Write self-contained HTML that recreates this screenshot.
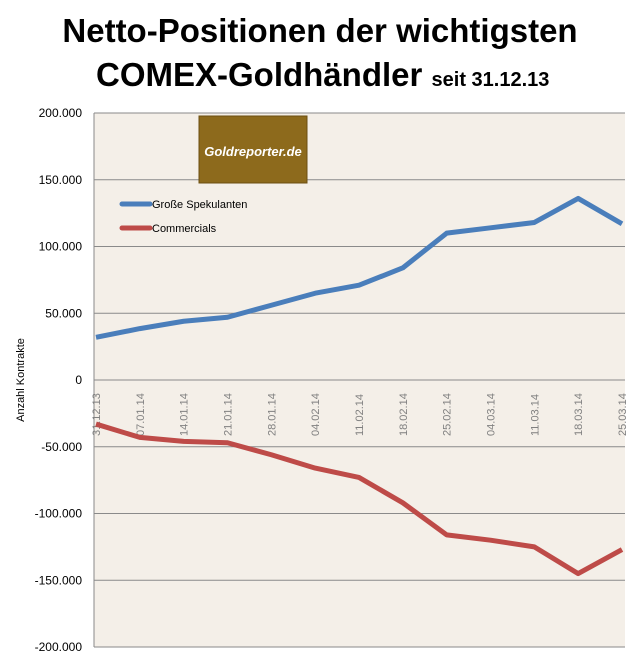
<!DOCTYPE html>
<html><head><meta charset="utf-8"><style>
body{margin:0;background:#fff;width:640px;height:658px;overflow:hidden;font-family:"Liberation Sans",sans-serif}
</style></head><body>
<svg id="c" width="640" height="658">
<text x="320" y="42" text-anchor="middle" font-size="33" font-weight="bold" font-family="Liberation Sans, sans-serif">Netto-Positionen der wichtigsten</text>
<text x="96" y="86" font-size="33" font-weight="bold" font-family="Liberation Sans, sans-serif">COMEX-Goldhändler <tspan font-size="20">seit 31.12.13</tspan></text>
<rect x="94" y="113" width="531" height="534" fill="#f4efe8"/>
<g id="grid"></g>
<g id="ylabels"></g>
<g id="xlabels"></g>
<text transform="translate(24,380) rotate(-90)" text-anchor="middle" font-size="11">Anzahl Kontrakte</text>
<g>
<rect x="199" y="116" width="108" height="67" fill="#8d6a1c" stroke="#6b4f12"/>
<text x="253" y="156" text-anchor="middle" fill="#fff" font-size="13" font-style="italic" font-weight="bold">Goldreporter.de</text>
</g>
<g id="series"></g>
<line x1="122" y1="204" x2="150" y2="204" stroke="#4a7ebb" stroke-width="5" stroke-linecap="round"/>
<text x="152" y="208" font-size="11">Große Spekulanten</text>
<line x1="122" y1="228" x2="150" y2="228" stroke="#be4b48" stroke-width="5" stroke-linecap="round"/>
<text x="152" y="232" font-size="11">Commercials</text>
</svg>
<script>
const categories=["31.12.13","07.01.14","14.01.14","21.01.14","28.01.14","04.02.14","11.02.14","18.02.14","25.02.14","04.03.14","11.03.14","18.03.14","25.03.14"];
const spekulanten=[32000,38500,44000,47000,56000,65000,71000,84000,110000,114000,118000,136000,117000];
const commercials=[-33000,-43000,-46000,-47000,-56000,-66000,-73000,-92000,-116000,-120000,-125000,-145000,-127000];
const yTicks=[200000,150000,100000,50000,0,-50000,-100000,-150000,-200000];
const yTickLabels=["200.000","150.000","100.000","50.000","0","-50.000","-100.000","-150.000","-200.000"];
const NS="http://www.w3.org/2000/svg";
const y=v=>380-v*267/200000;
const x=i=>96+i*(622-96)/(categories.length-1);
function mk(t,a,p){const e=document.createElementNS(NS,t);for(const k in a)e.setAttribute(k,a[k]);document.getElementById(p).appendChild(e);return e;}
yTicks.forEach((v,i)=>{
 const l=mk('line',{x1:94,x2:625,y1:y(v),y2:y(v),stroke:'#8a8a8a','stroke-width':1},'grid');
 
 
 const t=mk('text',{x:82,y:y(v)+4,'text-anchor':'end','font-size':12},'ylabels');t.textContent=yTickLabels[i];
 
 
});
const ax=mk('line',{x1:94,x2:94,y1:113,y2:647,stroke:'#8a8a8a'},'grid');


categories.forEach((c,i)=>{
 const t=mk('text',{transform:`translate(${x(i)+4},436) rotate(-90)`,'font-size':11,fill:'#808080'},'xlabels');t.textContent=c;
 
 
});
function line(d,col,name){
 const p=mk('polyline',{points:d.map((v,i)=>x(i)+','+y(v)).join(' '),fill:'none',stroke:col,'stroke-width':5,'stroke-linejoin':'round'},'series');
 
 
}
line(spekulanten,'#4a7ebb','line-spekulanten');
line(commercials,'#be4b48','line-commercials');
</script>
</body></html>
